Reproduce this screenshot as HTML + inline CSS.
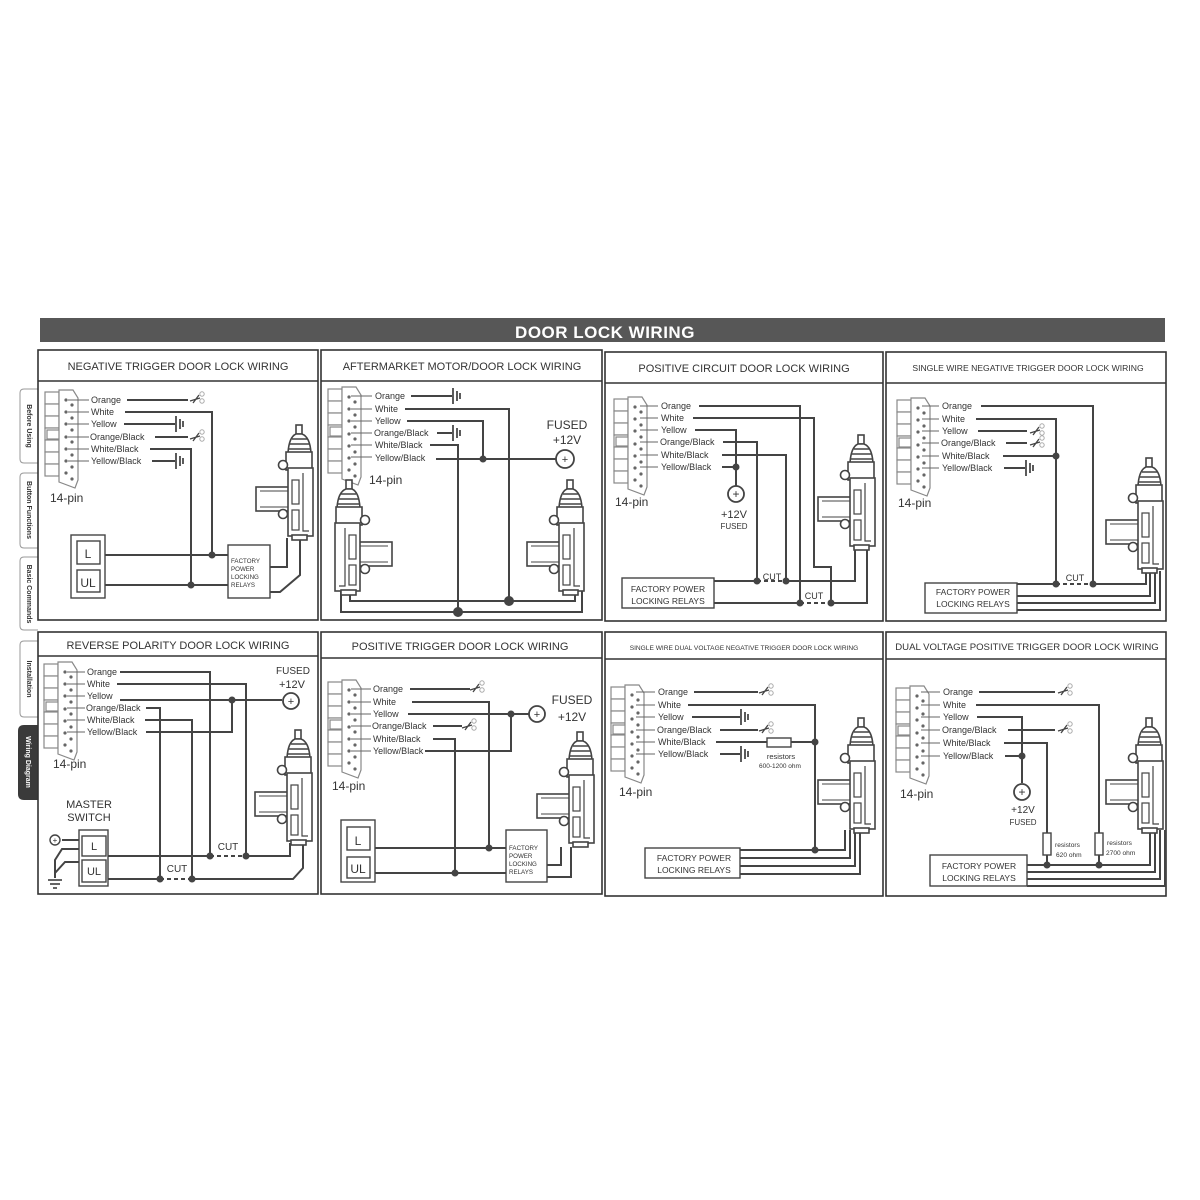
<!DOCTYPE html>
<html><head><meta charset="utf-8"><style>
html,body{margin:0;padding:0;background:#fff}
svg{display:block}
text{font-family:"Liberation Sans",sans-serif;fill:#333}
</style></head><body>
<svg width="1200" height="1200" viewBox="0 0 1200 1200" xmlns="http://www.w3.org/2000/svg">
<defs>
<symbol id="act" overflow="visible">
<g fill="#fff" stroke="#444" stroke-width="1.6">
<rect x="40" y="0" width="6" height="9"/>
<path d="M32 28 Q33 12 40 9 L46 9 Q54 12 55 28 Z"/>
<path d="M36 14h15M34 19h19M33 24h21" />
<rect x="30" y="27" width="26" height="18"/>
<rect x="0" y="62" width="34" height="24"/>
<path d="M4 66h30M4 82h30" stroke-width="1"/>
<rect x="32" y="43" width="25" height="68"/>
<rect x="36" y="55" width="7" height="24" stroke-width="1.2"/>
<rect x="36" y="85" width="7" height="20" stroke-width="1.2"/>
<path d="M47 48v58h6" stroke-width="1.2"/>
<circle cx="27" cy="40" r="4.5"/>
<circle cx="27" cy="89" r="4.5"/>
<rect x="36" y="110" width="15" height="5"/>
</g>
</symbol>
<symbol id="conn" overflow="visible">
<g fill="#fff" stroke="#888" stroke-width="1.2">
<rect x="0" y="0" width="14" height="12"/><rect x="0" y="12" width="14" height="12"/>
<rect x="0" y="24" width="14" height="12"/><rect x="0" y="36" width="14" height="12"/>
<rect x="0" y="48" width="14" height="12"/><rect x="0" y="60" width="14" height="12"/>
<rect x="0" y="72" width="14" height="12"/>
<rect x="2" y="38" width="18" height="9"/>
<path d="M14 -2 L28 -2 L33 6 L33 88 L30 96 L14 90 Z"/>
</g>
<g fill="#666">
<circle cx="21" cy="8" r="1.6"/><circle cx="27" cy="13" r="1.6"/><circle cx="21" cy="20" r="1.6"/><circle cx="27" cy="26" r="1.6"/>
<circle cx="21" cy="32" r="1.6"/><circle cx="27" cy="38" r="1.6"/><circle cx="21" cy="45" r="1.6"/><circle cx="27" cy="50" r="1.6"/>
<circle cx="21" cy="57" r="1.6"/><circle cx="27" cy="63" r="1.6"/><circle cx="21" cy="69" r="1.6"/><circle cx="27" cy="75" r="1.6"/>
<circle cx="21" cy="81" r="1.6"/><circle cx="27" cy="87" r="1.6"/>
</g>
</symbol>
<symbol id="sc" overflow="visible">
<path d="M0 2 L10 -1 M3 4 L9 -4" stroke="#444" stroke-width="1.3" fill="none"/>
<circle cx="12" cy="-5" r="2.2" fill="none" stroke="#aaa" stroke-width="1"/>
<circle cx="12" cy="2" r="2.2" fill="none" stroke="#aaa" stroke-width="1"/>
</symbol>
<symbol id="gnd" overflow="visible">
<path d="M0 -8V8M4 -5V5M7 -3V3" stroke="#333" stroke-width="1.6"/>
</symbol>
</defs>

<rect x="40" y="318" width="1125" height="24" fill="#575757"/>
<text x="605" y="338" text-anchor="middle" font-size="17" font-weight="bold" style="fill:#fff" letter-spacing="0.5">DOOR LOCK WIRING</text>

<g fill="#fff" stroke="#999" stroke-width="1">
<path d="M38 389 H24 Q20 389 20 393 V459 Q20 463 24 463 H38"/>
<path d="M38 473 H24 Q20 473 20 477 V544 Q20 548 24 548 H38"/>
<path d="M38 557 H24 Q20 557 20 561 V626 Q20 630 24 630 H38"/>
<path d="M38 641 H24 Q20 641 20 645 V713 Q20 717 24 717 H38"/>
</g>
<path d="M38 725 H24 Q18 725 18 731 V794 Q18 800 24 800 H38Z" fill="#3a3a3a"/>
<g font-size="7" font-weight="bold">
<text transform="translate(27,426) rotate(90)" text-anchor="middle">Before Using</text>
<text transform="translate(27,510) rotate(90)" text-anchor="middle">Button Functions</text>
<text transform="translate(27,594) rotate(90)" text-anchor="middle">Basic Commands</text>
<text transform="translate(27,679) rotate(90)" text-anchor="middle">Installation</text>
<text transform="translate(26,762) rotate(90)" text-anchor="middle" style="fill:#fff">Wiring Diagram</text>
</g>

<g fill="none" stroke="#333" stroke-width="1.6">
<rect x="38" y="350" width="280" height="270"/><line x1="38" y1="381" x2="318" y2="381"/>
<rect x="321" y="350" width="281" height="270"/><line x1="321" y1="381" x2="602" y2="381"/>
<rect x="605" y="352" width="278" height="269"/><line x1="605" y1="383" x2="883" y2="383"/>
<rect x="886" y="352" width="280" height="269"/><line x1="886" y1="383" x2="1166" y2="383"/>
<rect x="38" y="632" width="280" height="262"/><line x1="38" y1="656" x2="318" y2="656"/>
<rect x="321" y="632" width="281" height="262"/><line x1="321" y1="658" x2="602" y2="658"/>
<rect x="605" y="632" width="278" height="264"/><line x1="605" y1="659" x2="883" y2="659"/>
<rect x="886" y="632" width="280" height="264"/><line x1="886" y1="659" x2="1166" y2="659"/>
</g>
<g font-size="11" text-anchor="middle">
<text x="178" y="370">NEGATIVE TRIGGER DOOR LOCK WIRING</text>
<text x="462" y="370">AFTERMARKET MOTOR/DOOR LOCK WIRING</text>
<text x="744" y="372">POSITIVE CIRCUIT DOOR LOCK WIRING</text>
<text x="1028" y="371" font-size="8.6">SINGLE WIRE NEGATIVE TRIGGER DOOR LOCK WIRING</text>
<text x="178" y="649">REVERSE POLARITY DOOR LOCK WIRING</text>
<text x="460" y="650">POSITIVE TRIGGER DOOR LOCK WIRING</text>
<text x="744" y="650" font-size="6.6">SINGLE WIRE DUAL VOLTAGE NEGATIVE TRIGGER DOOR LOCK WIRING</text>
<text x="1027" y="650" font-size="9.6">DUAL VOLTAGE POSITIVE TRIGGER DOOR LOCK WIRING</text>
</g>

<!-- PANEL 1 -->
<use href="#conn" x="45" y="392"/>
<g stroke="#666" stroke-width="1"><path d="M68 400h21M68 412h21M68 424h21M68 437h21M68 449h21M68 461h21"/></g>
<g font-size="9"><text x="91" y="403">Orange</text><text x="91" y="415">White</text><text x="91" y="427">Yellow</text><text x="90" y="440">Orange/Black</text><text x="91" y="452">White/Black</text><text x="91" y="464">Yellow/Black</text></g>
<text x="50" y="502" font-size="12">14-pin</text>
<g fill="none" stroke="#444" stroke-width="2">
<path d="M127 400H188"/><path d="M125 412H212V555"/><path d="M124 424H175"/><path d="M155 437H188"/><path d="M150 449H191V585"/><path d="M152 461H175"/>
<path d="M105 555H228M105 585H228"/>
<path d="M270 567H287V538M270 592H280L300 575V538"/>
</g>
<use href="#sc" x="190" y="399"/><use href="#sc" x="190" y="437"/>
<use href="#gnd" x="176" y="424"/><use href="#gnd" x="176" y="461"/>
<circle cx="212" cy="555" r="3.5" fill="#444"/><circle cx="191" cy="585" r="3.5" fill="#444"/>
<g fill="#fff" stroke="#444" stroke-width="1.4"><rect x="71" y="535" width="34" height="63"/><rect x="77" y="541" width="23" height="23"/><rect x="77" y="570" width="23" height="22"/><rect x="228" y="545" width="42" height="53"/></g>
<text x="88" y="558" font-size="12" text-anchor="middle">L</text><text x="88" y="587" font-size="12" text-anchor="middle">UL</text>
<g font-size="6.2"><text x="231" y="563">FACTORY</text><text x="231" y="571">POWER</text><text x="231" y="579">LOCKING</text><text x="231" y="587">RELAYS</text></g>
<use href="#act" x="256" y="425"/>

<!-- PANEL 2 -->
<use href="#conn" x="328" y="389"/>
<g stroke="#666" stroke-width="1"><path d="M351 396h21M351 409h21M351 421h21M351 433h21M351 445h21M351 457h21"/></g>
<g font-size="9"><text x="375" y="399">Orange</text><text x="375" y="412">White</text><text x="375" y="424">Yellow</text><text x="374" y="436">Orange/Black</text><text x="375" y="448">White/Black</text><text x="375" y="461">Yellow/Black</text></g>
<text x="369" y="484" font-size="12">14-pin</text>
<g fill="none" stroke="#444" stroke-width="2">
<path d="M411 396H452"/><path d="M405 409H509V601"/><path d="M407 421H483V459"/><path d="M437 433H452"/><path d="M430 445H458V612"/><path d="M436 459H556"/>
<path d="M350 590V601H575V590M341 590V612H582V590"/>
</g>
<use href="#gnd" x="453" y="396"/><use href="#gnd" x="453" y="433"/>
<circle cx="483" cy="459" r="3.5" fill="#444"/><circle cx="509" cy="601" r="5" fill="#444"/><circle cx="458" cy="612" r="5" fill="#444"/>
<circle cx="565" cy="459" r="9" fill="#fff" stroke="#444" stroke-width="1.8"/><text x="565" y="463" font-size="11" text-anchor="middle">+</text>
<text x="567" y="429" font-size="12" text-anchor="middle">FUSED</text><text x="567" y="444" font-size="12" text-anchor="middle">+12V</text>
<use href="#act" transform="translate(392,480) scale(-1,1)"/>
<use href="#act" x="527" y="480"/>

<!-- PANEL 3 -->
<use href="#conn" x="614" y="399"/>
<g stroke="#666" stroke-width="1"><path d="M640 406h18M640 418h18M640 430h18M640 442h18M640 455h18M640 467h18"/></g>
<g font-size="9"><text x="661" y="409">Orange</text><text x="661" y="421">White</text><text x="661" y="433">Yellow</text><text x="660" y="445">Orange/Black</text><text x="661" y="458">White/Black</text><text x="661" y="470">Yellow/Black</text></g>
<text x="615" y="506" font-size="12">14-pin</text>
<g fill="none" stroke="#444" stroke-width="2">
<path d="M699 406H800V603"/><path d="M693 418H814V567H831V603"/><path d="M695 430H736V486"/><path d="M723 442H757V581"/><path d="M722 455H786V581"/><path d="M722 467H736"/>
<path d="M714 581H757M786 581H855V545M714 603H800M831 603H867V545"/>
</g>
<path d="M757 581H786M800 603H831" stroke="#444" stroke-width="2" stroke-dasharray="4,3"/>
<circle cx="736" cy="467" r="3.5" fill="#444"/><circle cx="757" cy="581" r="3.5" fill="#444"/><circle cx="786" cy="581" r="3.5" fill="#444"/><circle cx="800" cy="603" r="3.5" fill="#444"/><circle cx="831" cy="603" r="3.5" fill="#444"/>
<circle cx="736" cy="494" r="8" fill="#fff" stroke="#444" stroke-width="1.8"/><text x="736" y="498" font-size="12" text-anchor="middle">+</text>
<text x="734" y="518" font-size="11" text-anchor="middle">+12V</text><text x="734" y="529" font-size="8" text-anchor="middle">FUSED</text>
<text x="772" y="580" font-size="9" text-anchor="middle">CUT</text><text x="814" y="599" font-size="9" text-anchor="middle">CUT</text>
<rect x="622" y="578" width="92" height="30" fill="#fff" stroke="#444" stroke-width="1.4"/>
<text x="668" y="592" font-size="8.5" text-anchor="middle">FACTORY POWER</text><text x="668" y="604" font-size="8.5" text-anchor="middle">LOCKING RELAYS</text>
<use href="#act" x="818" y="435"/>

<!-- PANEL 4 -->
<use href="#conn" x="897" y="400"/>
<g stroke="#666" stroke-width="1"><path d="M922 406h17M922 419h17M922 431h17M922 443h17M922 456h17M922 468h17"/></g>
<g font-size="9"><text x="942" y="409">Orange</text><text x="942" y="422">White</text><text x="942" y="434">Yellow</text><text x="941" y="446">Orange/Black</text><text x="942" y="459">White/Black</text><text x="942" y="471">Yellow/Black</text></g>
<text x="898" y="507" font-size="12">14-pin</text>
<g fill="none" stroke="#444" stroke-width="2">
<path d="M981 406H1093V584"/><path d="M976 419H1056V584"/><path d="M978 431H1027"/><path d="M1006 443H1027"/><path d="M1003 456H1056"/><path d="M1004 468H1025"/>
<path d="M1017 584H1056M1093 584H1146V571M1017 596H1150V571M1017 603H1155V571M1017 610H1160V571"/>
</g>
<path d="M1056 584H1093" stroke="#444" stroke-width="2" stroke-dasharray="4,3"/>
<use href="#sc" x="1030" y="431"/><use href="#sc" x="1030" y="443"/><use href="#gnd" x="1026" y="468"/>
<circle cx="1056" cy="456" r="3.5" fill="#444"/><circle cx="1056" cy="584" r="3.5" fill="#444"/><circle cx="1093" cy="584" r="3.5" fill="#444"/>
<text x="1075" y="581" font-size="9" text-anchor="middle">CUT</text>
<rect x="925" y="583" width="92" height="30" fill="#fff" stroke="#444" stroke-width="1.4"/>
<text x="973" y="595" font-size="8.5" text-anchor="middle">FACTORY POWER</text><text x="973" y="607" font-size="8.5" text-anchor="middle">LOCKING RELAYS</text>
<use href="#act" x="1106" y="458"/>

<!-- PANEL 5 -->
<use href="#conn" x="44" y="664"/>
<g stroke="#666" stroke-width="1"><path d="M67 672h18M67 684h18M67 696h18M67 708h18M67 720h18M67 732h18"/></g>
<g font-size="9"><text x="87" y="675">Orange</text><text x="87" y="687">White</text><text x="87" y="699">Yellow</text><text x="86" y="711">Orange/Black</text><text x="87" y="723">White/Black</text><text x="87" y="735">Yellow/Black</text></g>
<text x="53" y="768" font-size="12">14-pin</text>
<g fill="none" stroke="#444" stroke-width="2">
<path d="M120 672H210V856"/><path d="M117 684H246V856"/><path d="M120 700H282"/><path d="M146 708H160V879"/><path d="M145 720H192V879"/><path d="M146 732H232V700"/>
<path d="M108 856H210M246 856H290V843M108 879H160M192 879H293L303 868V843"/>
<path d="M62 840H79M79 849H62L55 860V878M79 862H65L55 873"/>
</g>
<path d="M48 880h14M50 884h10M53 888h4" stroke="#333" stroke-width="1.5"/>
<path d="M210 856H246M160 879H192" stroke="#444" stroke-width="2" stroke-dasharray="4,3"/>
<circle cx="232" cy="700" r="3.5" fill="#444"/><circle cx="210" cy="856" r="3.5" fill="#444"/><circle cx="246" cy="856" r="3.5" fill="#444"/><circle cx="160" cy="879" r="3.5" fill="#444"/><circle cx="192" cy="879" r="3.5" fill="#444"/>
<circle cx="291" cy="701" r="8" fill="#fff" stroke="#444" stroke-width="1.8"/><text x="291" y="705" font-size="11" text-anchor="middle">+</text>
<circle cx="55" cy="840" r="5" fill="#fff" stroke="#444" stroke-width="1.4"/><text x="55" y="843" font-size="8" text-anchor="middle">+</text>
<text x="293" y="674" font-size="10" text-anchor="middle">FUSED</text><text x="292" y="688" font-size="11" text-anchor="middle">+12V</text>
<text x="89" y="808" font-size="11" text-anchor="middle">MASTER</text><text x="89" y="821" font-size="11" text-anchor="middle">SWITCH</text>
<text x="228" y="850" font-size="10" text-anchor="middle">CUT</text><text x="177" y="872" font-size="10" text-anchor="middle">CUT</text>
<g fill="#fff" stroke="#444" stroke-width="1.4"><rect x="79" y="830" width="29" height="56"/><rect x="82" y="836" width="24" height="20"/><rect x="82" y="860" width="24" height="22"/></g>
<text x="94" y="850" font-size="11" text-anchor="middle">L</text><text x="94" y="875" font-size="11" text-anchor="middle">UL</text>
<use href="#act" x="255" y="730"/>

<!-- PANEL 6 -->
<use href="#conn" x="328" y="682"/>
<g stroke="#666" stroke-width="1"><path d="M351 689h20M351 702h20M351 714h20M351 726h20M351 739h20M351 751h20"/></g>
<g font-size="9"><text x="373" y="692">Orange</text><text x="373" y="705">White</text><text x="373" y="717">Yellow</text><text x="372" y="729">Orange/Black</text><text x="373" y="742">White/Black</text><text x="373" y="754">Yellow/Black</text></g>
<text x="332" y="790" font-size="12">14-pin</text>
<g fill="none" stroke="#444" stroke-width="2">
<path d="M410 689H470"/><path d="M412 702H489V848"/><path d="M408 714H529"/><path d="M433 726H462"/><path d="M433 739H455V873"/><path d="M425 751H511V714"/>
<path d="M375 848H506M375 873H506M547 865H561V847M547 877H571V847"/>
</g>
<use href="#sc" x="470" y="688"/><use href="#sc" x="462" y="726"/>
<circle cx="511" cy="714" r="3.5" fill="#444"/><circle cx="489" cy="848" r="3.5" fill="#444"/><circle cx="455" cy="873" r="3.5" fill="#444"/>
<circle cx="537" cy="714" r="8" fill="#fff" stroke="#444" stroke-width="1.8"/><text x="537" y="718" font-size="11" text-anchor="middle">+</text>
<text x="572" y="704" font-size="12" text-anchor="middle">FUSED</text><text x="572" y="721" font-size="12" text-anchor="middle">+12V</text>
<g fill="#fff" stroke="#444" stroke-width="1.4"><rect x="341" y="820" width="34" height="62"/><rect x="347" y="827" width="23" height="23"/><rect x="347" y="857" width="23" height="21"/><rect x="506" y="830" width="41" height="52"/></g>
<text x="358" y="845" font-size="12" text-anchor="middle">L</text><text x="358" y="873" font-size="12" text-anchor="middle">UL</text>
<g font-size="6.2"><text x="509" y="850">FACTORY</text><text x="509" y="858">POWER</text><text x="509" y="866">LOCKING</text><text x="509" y="874">RELAYS</text></g>
<use href="#act" x="537" y="732"/>

<!-- PANEL 7 -->
<use href="#conn" x="611" y="687"/>
<g stroke="#666" stroke-width="1"><path d="M636 692h19M636 705h19M636 717h19M636 730h19M636 742h19M636 754h19"/></g>
<g font-size="9"><text x="658" y="695">Orange</text><text x="658" y="708">White</text><text x="658" y="720">Yellow</text><text x="657" y="733">Orange/Black</text><text x="658" y="745">White/Black</text><text x="658" y="757">Yellow/Black</text></g>
<text x="619" y="796" font-size="12">14-pin</text>
<g fill="none" stroke="#444" stroke-width="2">
<path d="M694 692H758"/><path d="M688 705H815V850"/><path d="M692 717H740"/><path d="M720 730H758"/><path d="M716 742H767M791 742H815"/><path d="M720 754H740"/>
<path d="M740 850H845V830M740 858H850V830M740 866H855V830M740 874H860V830"/>
</g>
<rect x="767" y="738" width="24" height="9" fill="#fff" stroke="#444" stroke-width="1.4"/>
<use href="#sc" x="759" y="691"/><use href="#sc" x="759" y="729"/><use href="#gnd" x="741" y="717"/><use href="#gnd" x="741" y="754"/>
<circle cx="815" cy="742" r="3.5" fill="#444"/><circle cx="815" cy="850" r="3.5" fill="#444"/>
<text x="781" y="759" font-size="7.5" text-anchor="middle">resistors</text><text x="780" y="768" font-size="6.5" text-anchor="middle">600-1200 ohm</text>
<rect x="645" y="848" width="95" height="30" fill="#fff" stroke="#444" stroke-width="1.4"/>
<text x="694" y="861" font-size="8.5" text-anchor="middle">FACTORY POWER</text><text x="694" y="873" font-size="8.5" text-anchor="middle">LOCKING RELAYS</text>
<use href="#act" x="818" y="718"/>

<!-- PANEL 8 -->
<use href="#conn" x="896" y="688"/>
<g stroke="#666" stroke-width="1"><path d="M921 692h19M921 705h19M921 717h19M921 730h19M921 743h19M921 756h19"/></g>
<g font-size="9"><text x="943" y="695">Orange</text><text x="943" y="708">White</text><text x="943" y="720">Yellow</text><text x="942" y="733">Orange/Black</text><text x="943" y="746">White/Black</text><text x="943" y="759">Yellow/Black</text></g>
<text x="900" y="798" font-size="12">14-pin</text>
<g fill="none" stroke="#444" stroke-width="2">
<path d="M979 692H1055"/><path d="M976 705H1099V833M1099 855V865"/><path d="M977 717H1022V783"/><path d="M1008 730H1055"/><path d="M1004 743H1047V833M1047 855V865"/><path d="M1005 756H1022"/>
<path d="M1027 865H1150V830M1027 872H1155V830M1027 879H1160V830M1027 886H1165V830"/>
</g>
<g fill="#fff" stroke="#444" stroke-width="1.4"><rect x="1043" y="833" width="8" height="22"/><rect x="1095" y="833" width="8" height="22"/></g>
<use href="#sc" x="1058" y="691"/><use href="#sc" x="1058" y="729"/>
<circle cx="1022" cy="756" r="3.5" fill="#444"/><circle cx="1047" cy="865" r="3.5" fill="#444"/><circle cx="1099" cy="865" r="3.5" fill="#444"/>
<circle cx="1022" cy="792" r="8" fill="#fff" stroke="#444" stroke-width="1.8"/><text x="1022" y="796" font-size="12" text-anchor="middle">+</text>
<text x="1023" y="813" font-size="10" text-anchor="middle">+12V</text><text x="1023" y="825" font-size="8" text-anchor="middle">FUSED</text>
<g font-size="6.6"><text x="1055" y="847">resistors</text><text x="1056" y="857">620 ohm</text><text x="1107" y="845">resistors</text><text x="1106" y="855">2700 ohm</text></g>
<rect x="930" y="855" width="97" height="31" fill="#fff" stroke="#444" stroke-width="1.4"/>
<text x="979" y="869" font-size="8.5" text-anchor="middle">FACTORY POWER</text><text x="979" y="881" font-size="8.5" text-anchor="middle">LOCKING RELAYS</text>
<use href="#act" x="1106" y="718"/>
</svg>
</body></html>
